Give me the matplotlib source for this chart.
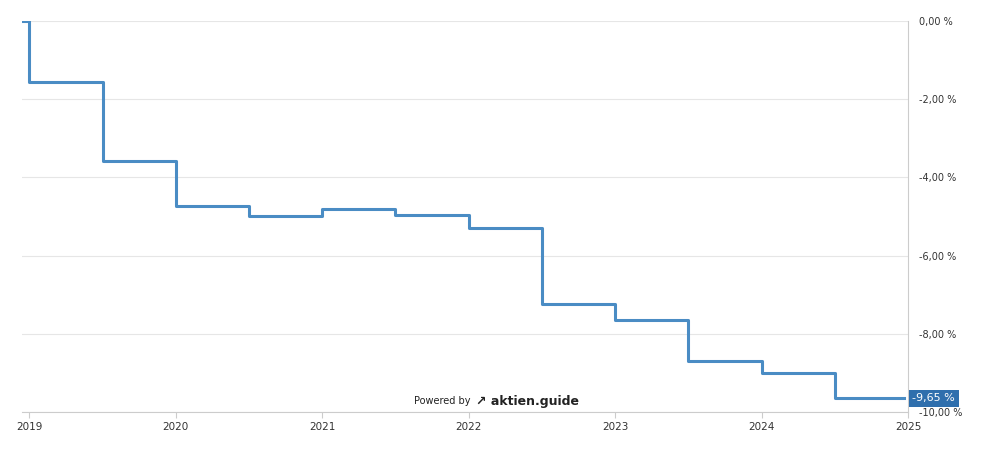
import matplotlib
matplotlib.use("Agg")
import matplotlib.pyplot as plt

# step dates (fractional years) and values (%)
dates = [2018.95, 2019.0, 2019.5, 2020.0, 2020.5, 2021.0, 2021.5, 2022.0, 2022.5, 2023.0, 2023.5, 2024.0, 2024.5, 2024.97]
values = [0.0, -1.55, -3.58, -4.72, -4.98, -4.82, -4.95, -5.30, -7.25, -7.65, -8.70, -9.00, -9.65, -9.65]
yticks = [0, -2, -4, -6, -8, -10]
ytick_labels = ["0,00 %", "-2,00 %", "-4,00 %", "-6,00 %", "-8,00 %", "-10,00 %"]
xticks = [2019, 2020, 2021, 2022, 2023, 2024, 2025]
last_label = "-9,65 %"

fig = plt.figure(figsize=(9.82, 4.49), dpi=100)
ax = fig.add_axes([22/982, 1-412/449, (908-22)/982, (412-21)/449])
ax.plot(dates, values, drawstyle="steps-post", color="#4a8cc4", lw=2.2)
ax.set_xlim(2018.95, 2024.97)
ax.set_ylim(-10, 0)
ax.yaxis.tick_right()
ax.set_yticks(yticks)
ax.set_yticklabels(ytick_labels, fontsize=7, color="#333333")
ax.set_xticks(xticks)
ax.set_xticklabels([str(x) for x in xticks], fontsize=7.5, color="#333333")
ax.grid(axis="y", color="#e6e6e6", lw=0.8)
for s in ["top", "left"]:
    ax.spines[s].set_visible(False)
ax.spines["right"].set_color("#cccccc")
ax.spines["bottom"].set_color("#cccccc")
ax.tick_params(axis="y", length=0, pad=8)
ax.tick_params(axis="x", length=4, color="#cccccc")
ax.text(1.005, (values[-1]+10)/10, last_label, transform=ax.transAxes, fontsize=8, color="white",
        va="center", ha="left", bbox=dict(boxstyle="square,pad=0.3", fc="#2f6fad", ec="none"))
fig.text(470/982, 1-401/449, "Powered by", fontsize=7, ha="right", va="center", color="#222222")
fig.text(476/982, 1-401/449, "\u2197 aktien.guide", fontsize=9, fontweight="bold", ha="left", va="center", color="#222222")
fig.savefig("out.png", dpi=100)
